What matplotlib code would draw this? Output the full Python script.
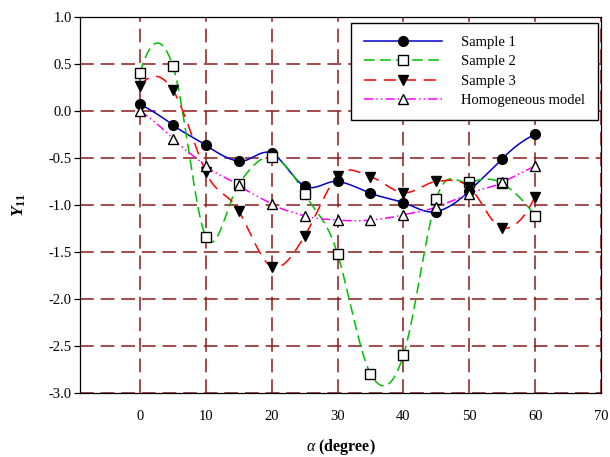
import matplotlib
matplotlib.use('Agg')
import matplotlib.pyplot as plt
import numpy as np

# values
angles = [0, 5, 10, 15, 20, 25, 30, 35, 40, 45, 50, 55, 60]
sample1 = [0.07, -0.15, -0.365, -0.535, -0.45, -0.80, -0.75, -0.875, -0.975, -1.07, -0.85, -0.51, -0.25]
sample2 = [0.40, 0.477, -1.34, -0.78, -0.49, -0.88, -1.52, -2.79, -2.595, -0.935, -0.76, -0.77, -1.115]
sample3 = [0.26, 0.22, -0.65, -1.06, -1.655, -1.33, -0.69, -0.70, -0.87, -0.75, -0.81, -1.245, -0.91]
homog = [0.0, -0.295, -0.585, -0.79, -0.99, -1.115, -1.16, -1.16, -1.105, -1.02, -0.88, -0.76, -0.585]

labels = ['Sample 1', 'Sample 2', 'Sample 3', 'Homogeneous model']

plt.rcParams['font.family'] = 'Liberation Serif'
plt.rcParams['mathtext.fontset'] = 'custom'
plt.rcParams['mathtext.rm'] = 'Liberation Serif'
plt.rcParams['mathtext.it'] = 'Liberation Serif:italic'
plt.rcParams['mathtext.bf'] = 'Liberation Serif:bold'
plt.rcParams['mathtext.bfit'] = 'Liberation Serif:italic:bold'
plt.rcParams['axes.unicode_minus'] = False


def smooth(x, y, k=0.6, n=40):
    # spreadsheet-like smoothed line (cardinal spline through the points)
    x = np.asarray(x, float)
    y = np.asarray(y, float)
    m = np.zeros_like(y)
    m[1:-1] = k * (y[2:] - y[:-2])
    m[0] = 2 * (y[1] - y[0]) - m[1]
    m[-1] = 2 * (y[-1] - y[-2]) - m[-2]
    xs, ys = [], []
    t = np.linspace(0, 1, n)
    h00 = 2 * t**3 - 3 * t**2 + 1
    h10 = t**3 - 2 * t**2 + t
    h01 = -2 * t**3 + 3 * t**2
    h11 = t**3 - t**2
    for i in range(len(x) - 1):
        xs.append(x[i] + (x[i + 1] - x[i]) * t)
        ys.append(h00 * y[i] + h10 * m[i] + h01 * y[i + 1] + h11 * m[i + 1])
    return np.concatenate(xs), np.concatenate(ys)


fig = plt.figure(figsize=(6.1, 4.57), dpi=100)
ax = fig.add_axes([80 / 610, 1 - 393.3 / 457, 521 / 610, 376.6 / 457])

styles = [
    dict(color='#0000CC', ls='-', marker='o', mfc='black', mec='black', ms=7),
    dict(color='#00C000', ls=(0, (7, 3.5)), marker='s', mfc='white', mec='black', ms=6.5),
    dict(color='#FF0000', ls=(0, (8, 5)), marker='v', mfc='black', mec='black', ms=7.5),
    dict(color='#FF00FF', ls=(0, (6, 2, 1, 2, 1, 2)), marker='^', mfc='white', mec='black', ms=7.5),
]

for vals, lab, st in zip([sample1, sample2, sample3, homog], labels, styles):
    sx, sy = smooth(angles, vals)
    ax.plot(sx, sy, color=st['color'], ls=st['ls'], lw=1.1, zorder=2)
    ax.plot(angles, vals, ls='none', marker=st['marker'], mfc=st['mfc'], mec=st['mec'],
            ms=st['ms'], mew=1.0, zorder=3)
    ax.plot([], [], color=st['color'], ls=st['ls'], lw=1.1, marker=st['marker'],
            mfc=st['mfc'], mec=st['mec'], ms=st['ms'], mew=1.0, label=lab)

ax.set_xlim(-9.1, 70)
ax.set_ylim(-3.0, 1.0)
ax.set_xticks(np.arange(0, 71, 10))
ax.set_yticks(np.arange(-3.0, 1.01, 0.5))
ax.yaxis.set_major_formatter(matplotlib.ticker.FormatStrFormatter('%.1f'))
ax.set_axisbelow(True)
ax.grid(True, color='#8B1A1A', lw=1.1, ls=(0, (9, 4.5)))
ax.tick_params(axis='x', length=0, pad=12, labelsize=10.5)
ax.tick_params(axis='y', length=4, width=0.9, pad=2, labelsize=10.5)
for sp in ax.spines.values():
    sp.set_linewidth(0.9)
    sp.set_color('black')

ax.set_xlabel(r'$\alpha$ (degree)', fontsize=11.5, fontweight='bold')
ax.xaxis.set_label_coords(0.5, -0.115)
ax.set_ylabel(r'$\mathbfit{Y}_{\mathbf{11}}$', fontsize=12.5)
ax.yaxis.set_label_coords(-0.1, 0.5)

leg = ax.legend(loc='upper right', bbox_to_anchor=(0.994, 0.984), fontsize=10.5,
                handlelength=5.3, handletextpad=1.3, borderpad=0.9, labelspacing=0.42,
                fancybox=False, framealpha=1, edgecolor='black',
                numpoints=1, borderaxespad=0)
leg.get_frame().set_linewidth(1.0)

fig.savefig('out.png', dpi=100)
